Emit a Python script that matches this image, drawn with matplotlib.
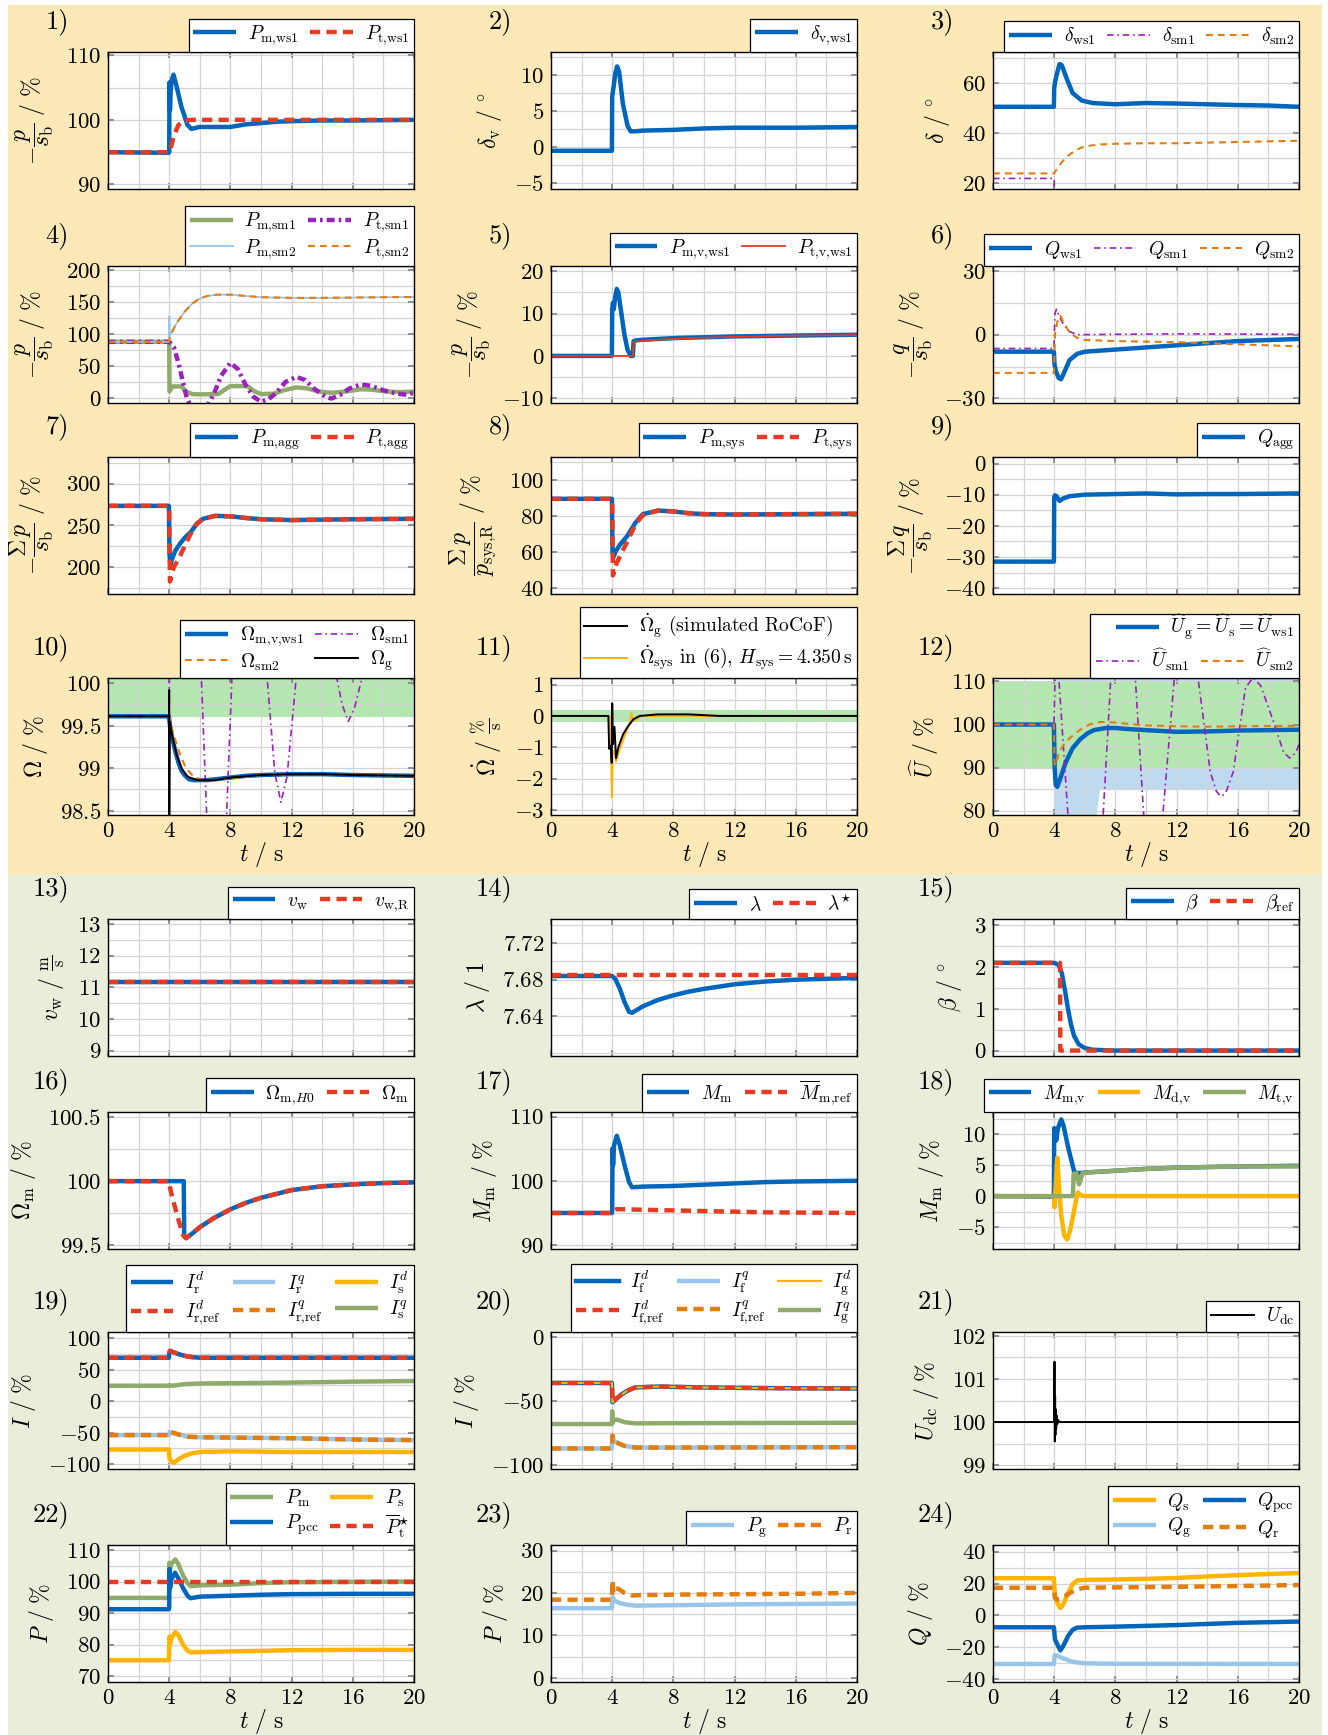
import matplotlib
matplotlib.use("Agg")
import matplotlib.pyplot as plt
import numpy as np
from matplotlib.patches import Rectangle, Polygon
from matplotlib.ticker import FuncFormatter

plt.rcParams['font.family'] = 'serif'
plt.rcParams['font.serif'] = ['cmr10']
plt.rcParams['mathtext.fontset'] = 'cm'
plt.rcParams['axes.unicode_minus'] = False

# ---------------- data (t in s, value) ----------------
p1_pm = [(0, 95.0), (3.95, 94.9), (4.0, 95.0), (4.02, 105.8), (4.05, 101.5), (4.1, 104.5), (4.15, 106), (4.28, 107),
         (4.45, 105.5), (4.8, 102), (5.2, 99.2), (5.45, 98.6), (6, 98.9), (8, 98.9), (9, 99.3), (10, 99.5),
         (11, 99.7), (12, 99.8), (14, 99.9), (16, 99.9), (20, 100.0)]
p1_pt = [(0, 95.0), (4.0, 95.0), (4.1, 95.6), (4.3, 97.5), (4.6, 99.2), (5.0, 99.9), (5.5, 100.0), (20, 100.0)]

p2_dv = [(0, -0.5), (3.98, -0.5), (4.0, 7.0), (4.05, 7.8), (4.1, 8.5), (4.2, 10.2), (4.32, 11.2), (4.45, 10.5),
         (4.7, 6.0), (5.0, 3.0), (5.2, 2.2), (5.5, 2.2), (6, 2.3), (8, 2.4), (10, 2.6), (12, 2.7), (16, 2.7), (20, 2.8)]

p3_ws1 = [(0, 50.5), (3.98, 50.5), (4.0, 58), (4.05, 60), (4.15, 63), (4.35, 67.5), (4.5, 67), (4.8, 62), (5.2, 56),
          (5.8, 53), (6.5, 52), (8, 51.5), (10, 52), (12, 51.8), (14, 51.5), (16, 51.2), (18, 51), (20, 50.5)]
p3_sm1 = [(0, 22.0), (4.0, 22.0), (4.02, 5.0), (20, -50.0)]
p3_sm2 = [(0, 24), (4.0, 24), (4.1, 25), (4.5, 28.5), (5, 31.5), (5.5, 33.5), (6, 34.8), (7, 35.5), (8, 35.8),
          (10, 36), (12, 36), (16, 36.5), (20, 37)]

p4_pm1 = [(0, 88), (4.0, 88), (4.02, 10), (4.1, 14), (4.25, 18), (4.8, 18), (5.1, 10), (5.5, 6), (6, 5.5), (7.2, 6),
          (7.7, 14), (8.0, 18.5), (9.1, 18.5), (9.6, 10), (10.0, 6), (10.8, 6.5), (11.5, 12), (12.3, 16.5),
          (13.0, 15), (13.8, 10), (14.6, 8), (15.5, 10), (16.5, 13.5), (17.2, 13), (18.2, 10), (19.2, 9), (20, 10)]
p4_pt1 = [(0, 88), (4.0, 88), (4.3, 80), (4.6, 55), (4.9, 25), (5.15, 0), (5.5, -18), (6.0, -25), (6.5, -12),
          (6.9, 5), (7.4, 35), (8.0, 55), (8.5, 45), (9.0, 20), (9.5, 2), (10.0, -6), (10.5, -2), (11.0, 8),
          (11.6, 25), (12.3, 33), (12.9, 28), (13.5, 14), (14.2, 2), (14.6, -1), (15.2, 5), (15.8, 15), (16.5, 21),
          (17.2, 19), (18.0, 12), (18.8, 7), (19.5, 5), (20, 8)]
p4_pm2 = [(0, 88), (3.99, 88), (4.01, 128), (4.04, 97), (4.1, 100), (4.5, 118), (5.0, 135), (5.5, 148), (6.0, 156),
          (6.5, 160), (7.1, 162), (8, 162), (9, 160), (10, 158), (12, 157), (14, 157), (16, 157.5), (20, 158.5)]
p4_pt2 = [(0, 88), (4.0, 88), (4.05, 96), (4.1, 100), (4.5, 118), (5.0, 135), (5.5, 148), (6.0, 156), (6.5, 160),
          (7.1, 162), (8, 162), (9, 160), (10, 158), (12, 157), (14, 157), (16, 157.5), (20, 158.5)]

p5_pm = [(0, 0), (3.98, 0), (4.0, 11), (4.05, 12.5), (4.1, 11), (4.2, 14), (4.3, 15.8), (4.4, 15), (4.6, 10),
         (4.8, 5), (5.0, 1.5), (5.2, 0), (5.35, 0), (5.4, 3.5), (5.6, 3.7), (6, 3.8), (8, 4.2), (10, 4.4),
         (12, 4.6), (16, 4.8), (20, 5.0)]
p5_pt = [(0, 0), (5.35, 0), (5.4, 3.3), (6, 3.6), (8, 4.0), (10, 4.3), (12, 4.5), (16, 4.8), (20, 4.9)]

p6_ws1 = [(0, -8), (3.98, -8), (4.02, -14), (4.1, -17), (4.3, -20.5), (4.45, -21), (4.7, -17), (5.0, -12),
          (5.5, -9), (6, -8), (8, -7), (10, -6), (12, -5), (14, -4), (16, -3), (18, -2.5), (20, -2)]
p6_sm1 = [(0, -6.5), (3.98, -6.5), (4.05, 10), (4.15, 12), (4.3, 9), (4.6, 5), (5.0, 1.5), (5.5, 0), (8, 0.2),
          (12, 0.4), (16, 0.3), (20, 0.2)]
p6_sm2 = [(0, -18), (3.98, -18), (4.05, 0), (4.2, 6), (4.4, 9), (4.6, 6), (5.0, 1), (5.5, -1.5), (6, -2.5),
          (8, -3), (12, -3.5), (16, -4.5), (20, -5.5)]

p7_pm = [(0, 273.5), (3.98, 273.5), (4.02, 215), (4.08, 202), (4.15, 208), (4.4, 220), (4.7, 228), (5.0, 235),
         (5.4, 242), (5.8, 252), (6.2, 258), (7, 261.5), (8, 261), (9, 259), (10, 257.5), (12, 256.5), (14, 257),
         (16, 257.5), (20, 258)]
p7_pt = [(0, 273.5), (4.0, 273.5), (4.05, 183), (4.3, 200), (4.7, 213), (5.0, 225), (5.4, 240), (5.8, 252),
         (6.2, 258), (7, 261.5), (8, 261), (9, 259), (10, 257.5), (12, 256.5), (14, 257), (16, 257.5), (20, 258)]

p8_pm = [(0, 89.5), (3.98, 89.5), (4.02, 60), (4.08, 57), (4.2, 60), (4.5, 64), (5.0, 69), (5.5, 76), (6.0, 81),
         (7, 83), (8, 82.5), (9, 81.5), (10, 81), (12, 80.8), (16, 81), (20, 81.2)]
p8_pt = [(0, 89.5), (4.0, 89.5), (4.05, 47), (4.3, 54), (4.7, 61), (5.0, 66), (5.5, 75), (6.0, 80.5), (7, 83),
         (8, 82.5), (9, 81.5), (10, 81), (12, 80.8), (16, 81), (20, 81.2)]

p9_q = [(0, -31.5), (3.98, -31.5), (4.0, -11), (4.05, -10.2), (4.15, -10.5), (4.35, -12), (4.6, -11.2),
        (5, -10.5), (6, -10), (8, -9.8), (10, -9.6), (12, -9.9), (14, -9.8), (16, -9.8), (20, -9.6)]

p10_ws1 = [(0, 99.61), (3.98, 99.61), (4.05, 99.5), (4.2, 99.35), (4.4, 99.2), (4.6, 99.07), (4.8, 98.97),
           (5.0, 98.92), (5.3, 98.87), (5.6, 98.86), (6.5, 98.86), (7, 98.87), (8, 98.89), (9, 98.91),
           (10, 98.92), (12, 98.93), (14, 98.93), (16, 98.92), (18, 98.915), (20, 98.91)]
p10_sm2 = [(0, 99.61), (4.0, 99.61), (4.2, 99.45), (4.5, 99.27), (4.8, 99.12), (5.1, 99.0), (5.5, 98.92),
           (6, 98.87), (7, 98.86), (8, 98.88), (10, 98.92), (12, 98.93), (14, 98.93), (16, 98.92), (20, 98.91)]
p10_g = [(0, 99.61), (3.99, 99.61), (4.0, 99.92), (4.005, 98.3), (4.03, 99.55), (4.2, 99.38), (4.5, 99.15),
         (4.8, 99.0), (5.2, 98.9), (5.8, 98.86), (7, 98.86), (8, 98.89), (10, 98.92), (12, 98.93), (14, 98.93),
         (16, 98.92), (20, 98.91)]
p10_sm1 = [(0, 99.61), (3.99, 99.61), (4.02, 100.3), (5.0, 101.0), (5.8, 100.5), (6.1, 100.06), (6.45, 98.45),
           (7.1, 98.0), (7.75, 98.45), (8.1, 100.06), (9.2, 100.9), (10.4, 100.06), (10.9, 98.95), (11.3, 98.6),
           (11.7, 98.9), (12.3, 100.06), (13.6, 100.7), (14.95, 100.06), (15.3, 99.75), (15.7, 99.55),
           (16.1, 99.7), (16.6, 100.06), (18.3, 100.6), (20, 99.98)]
band10 = (99.6, 101.0)

p11_g = [(0, 0), (3.75, 0), (3.8, -1.05), (3.9, -0.95), (3.97, -1.5), (4.0, 0.4), (4.05, -0.9), (4.15, -0.35),
         (4.25, -1.35), (4.4, -1.0), (4.7, -0.6), (5.0, -0.35), (5.4, -0.1), (5.8, 0.0), (7, 0.05), (9, 0.05),
         (11, 0.0), (20, 0.0)]
p11_sys = [(0, 0), (3.85, 0), (3.9, -0.2), (3.98, -2.6), (4.03, -1.2), (4.15, -1.1), (4.25, -1.45), (4.5, -1.05),
           (4.8, -0.65), (5.1, -0.3), (5.25, 0.08), (5.35, -0.15), (5.6, -0.12), (5.9, 0.0), (20, 0)]
band11 = (-0.2, 0.2)

p12_ws1 = [(0, 100), (3.98, 100), (4.03, 90), (4.1, 86), (4.2, 85.5), (4.4, 87.5), (4.75, 91.2), (5.2, 94.5),
           (5.7, 96.6), (6.2, 98), (6.6, 98.7), (7.4, 99.2), (8, 99.2), (9, 98.9), (10, 98.7), (12, 98.3),
           (14, 98.4), (16, 98.6), (18, 98.7), (20, 98.8)]
p12_sm2 = [(0, 100), (3.98, 100), (4.02, 91), (4.1, 90.5), (4.3, 93.5), (4.6, 95.2), (5.0, 96.8), (5.7, 98.8),
           (6.3, 100), (7.0, 100.6), (7.9, 100.5), (9, 100.1), (10, 99.8), (12, 99.6), (14, 99.5), (16, 99.6),
           (20, 99.7)]
p12_sm1 = [(0, 100), (3.99, 100), (4.05, 110.8), (4.15, 116), (4.3, 110.8), (4.9, 79), (5.9, 72), (7.2, 79),
           (7.7, 110.8), (8.5, 117), (9.3, 110.8), (9.85, 79), (10.5, 73), (11.1, 79), (11.85, 110.8), (12.6, 116),
           (13.4, 110.8), (14.2, 89), (14.6, 84.5), (14.9, 83.3), (15.2, 84), (15.7, 89), (16.5, 108.5),
           (17.0, 110.9), (17.5, 109), (18.3, 101), (19.0, 93.5), (19.4, 92.2), (19.8, 93.5), (20, 95.5)]
band12_ok = (90, 110)
band12_frt = [(4, 60), (6.08, 60), (7.0, 85), (20, 85), (20, 115), (4, 115)]

p13_vw = [(0, 11.16), (20, 11.16)]
p13_vwr = [(0, 11.16), (20, 11.16)]

p14_l = [(0, 7.684), (3.98, 7.684), (4.2, 7.681), (4.5, 7.670), (4.8, 7.656), (5.1, 7.645), (5.3, 7.644),
         (5.6, 7.647), (6, 7.651), (7, 7.658), (8, 7.663), (9, 7.667), (10, 7.670), (12, 7.675), (14, 7.678),
         (16, 7.680), (18, 7.681), (20, 7.682)]
p14_ls = [(0, 7.685), (20, 7.685)]

p15_b = [(0, 2.1), (4.0, 2.1), (4.3, 2.05), (4.5, 1.85), (4.7, 1.45), (4.9, 1.0), (5.1, 0.62), (5.3, 0.35),
         (5.6, 0.15), (6.0, 0.06), (6.5, 0.02), (8, 0.0), (20, 0.0)]
p15_br = [(0, 2.1), (4.38, 2.1), (4.4, 0.0), (20, 0.0)]

p16_h0 = [(0, 100), (4.95, 100), (4.98, 99.57), (5.1, 99.555), (5.5, 99.59), (6.0, 99.64), (6.9, 99.71),
          (8, 99.78), (9, 99.83), (10, 99.87), (12, 99.93), (14, 99.96), (16, 99.975), (18, 99.985), (20, 99.99)]
p16_m = [(0, 100), (3.95, 100), (4.15, 99.9), (4.5, 99.74), (4.9, 99.58), (5.1, 99.555), (5.5, 99.59),
         (6.0, 99.64), (6.9, 99.71), (8, 99.78), (9, 99.83), (10, 99.87), (12, 99.93), (14, 99.96), (16, 99.975),
         (18, 99.985), (20, 99.99)]

p17_m = [(0, 95), (3.98, 95), (4.0, 95.2), (4.02, 105), (4.06, 102.5), (4.12, 105.5), (4.3, 107), (4.5, 105.5),
         (4.8, 102.5), (5.1, 99.8), (5.3, 99.0), (6, 99.1), (8, 99.2), (10, 99.4), (12, 99.6), (14, 99.8),
         (16, 99.9), (20, 100)]
p17_r = [(0, 95), (4.0, 95), (4.1, 95.4), (4.3, 95.6), (6, 95.5), (8, 95.4), (10, 95.3), (14, 95.1), (20, 95.0)]

p18_m = [(0, 0), (3.95, -0.1), (3.98, 0), (4.0, 11), (4.06, 10.5), (4.13, 9.0), (4.25, 11), (4.46, 12.4),
         (4.6, 11.5), (4.9, 8), (5.1, 6), (5.3, 4), (5.5, 3.7), (6, 3.8), (8, 4.1), (10, 4.4), (12, 4.6),
         (14, 4.7), (16, 4.8), (20, 4.9)]
p18_d = [(0, 0), (3.98, 0), (4.02, -1.8), (4.08, 1), (4.2, 6.2), (4.3, 2), (4.45, -3), (4.65, -6.3), (4.85, -7.0),
         (5.05, -5.5), (5.25, -3), (5.4, -1), (5.55, 0.6), (5.75, 0.1), (6, 0), (20, 0)]
p18_t = [(0, 0), (5.22, 0), (5.27, 3.6), (5.45, 3.7), (5.62, 1.9), (5.72, 2.6), (5.85, 3.7), (6.5, 3.9), (8, 4.1),
         (10, 4.4), (12, 4.6), (14, 4.7), (16, 4.8), (20, 4.8)]

p19_rd = [(0, 69), (3.98, 69), (4.0, 75), (4.05, 80), (4.2, 78.5), (4.6, 75), (5.0, 72), (5.5, 70), (6, 69), (20, 69)]
p19_rq = [(0, -54), (3.98, -54), (4.03, -49), (4.2, -50), (4.6, -53), (5.2, -56.5), (6, -57.5), (8, -58),
          (12, -59), (16, -61), (20, -62)]
p19_sd = [(0, -77), (3.98, -77), (4.02, -92), (4.15, -96), (4.3, -98), (4.6, -93), (5.0, -87), (5.5, -83),
          (6, -81), (8, -80), (12, -81), (20, -81)]
p19_sq = [(0, 24.5), (3.98, 24.5), (4.02, 25.5), (4.2, 24.5), (5.0, 27), (6, 28), (8, 28.5), (12, 29.5),
          (16, 31), (20, 32)]

p20_fd = [(0, -36), (3.98, -36), (4.02, -51), (4.1, -50), (4.3, -48), (4.6, -45), (5.0, -42), (5.5, -39.5),
          (7, -38.8), (10, -39.5), (14, -40), (20, -40.3)]
p20_fq = [(0, -87), (3.98, -87), (4.02, -77), (4.1, -81), (4.4, -83), (4.8, -85), (5.5, -86.3), (8, -86.3),
          (20, -86)]
p20_gq = [(0, -68), (3.98, -68), (4.0, -58), (4.03, -67), (4.1, -65), (4.3, -64.5), (4.8, -66.5), (5.5, -67.5),
          (8, -67.3), (20, -67)]

p21_udc = [(0, 100), (3.99, 100), (4.0, 100.3), (4.02, 101.4), (4.04, 99.55), (4.06, 100.6), (4.08, 99.7),
           (4.1, 100.3), (4.13, 99.85), (4.16, 100.15), (4.2, 99.95), (4.25, 100.05), (4.35, 100), (20, 100)]

p22_pm = [(0, 94.8), (3.98, 94.8), (4.02, 106), (4.06, 104), (4.12, 105.5), (4.4, 107), (4.6, 105.5), (4.9, 102),
          (5.2, 99.5), (5.4, 98.5), (6, 98.8), (8, 99), (10, 99.5), (12, 99.8), (16, 99.9), (20, 100)]
p22_ppcc = [(0, 91.2), (3.98, 91.2), (4.0, 92), (4.02, 104), (4.06, 98), (4.12, 100.5), (4.38, 102.8),
            (4.6, 101), (4.9, 98), (5.2, 95.5), (5.4, 94.7), (6, 95.2), (8, 95.5), (10, 95.8), (12, 96),
            (16, 96.1), (20, 96.1)]
p22_ps = [(0, 75), (3.98, 75), (4.02, 82.5), (4.08, 80.5), (4.15, 82), (4.4, 84), (4.6, 83), (4.9, 80),
          (5.2, 78), (5.4, 77.5), (6, 77.6), (8, 77.8), (10, 78), (12, 78.2), (16, 78.3), (20, 78.3)]
p22_pt = [(0, 100), (20, 100)]

p23_pg = [(0, 16.4), (3.98, 16.4), (4.03, 19), (4.15, 18.2), (4.5, 17.6), (5, 17.2), (5.5, 17.0), (8, 17.1),
          (12, 17.3), (16, 17.4), (20, 17.5)]
p23_pr = [(0, 18.4), (3.98, 18.4), (4.02, 23), (4.08, 20), (4.2, 21), (4.4, 21), (4.8, 20), (5.3, 19.4),
          (6, 19.5), (8, 19.6), (12, 19.7), (16, 19.8), (20, 20)]

p24_qs = [(0, 23.4), (3.98, 23.4), (4.05, 12), (4.2, 8), (4.4, 4.7), (4.6, 7), (4.9, 14), (5.2, 19.5), (5.5, 22),
          (6, 22.3), (8, 22.6), (10, 23), (12, 23.5), (14, 24.5), (16, 25.3), (18, 26), (20, 26.6)]
p24_qr = [(0, 17.4), (3.98, 17.4), (4.05, 11), (4.2, 10), (4.4, 10.5), (4.7, 12), (5.0, 14), (5.5, 16.5),
          (6, 17.4), (10, 17.8), (14, 18.2), (18, 18.8), (20, 19.1)]
p24_qpcc = [(0, -7.4), (3.98, -7.4), (4.05, -15), (4.2, -18), (4.4, -21.9), (4.6, -19), (4.9, -13), (5.2, -9),
            (5.5, -7.6), (6, -7.4), (8, -7), (10, -6.5), (12, -6), (14, -5.3), (16, -4.6), (18, -4.2), (20, -3.8)]
p24_qg = [(0, -30.4), (3.98, -30.4), (4.03, -25), (4.2, -25.2), (4.6, -27), (5.2, -29), (6, -30), (8, -30.3),
          (20, -30.4)]

# ---------------- style ----------------
BLUE = '#0065bd'
LBLUE = '#98c6ea'
RED = '#e53b22'
ORANGE = '#e37d0e'
YELLOW = '#ffb400'
GREEN = '#8fab6c'
PURPLE = '#9b21bd'
BAND_G = '#b4e7b0'
BAND_B = '#bedaf0'

THICK = dict(lw=3.2, solid_capstyle='butt')
DASH_T = dict(lw=3.2, dashes=(2.3, 1.4))
DASH_O = dict(lw=1.5, dashes=(3.3, 2.4))
DDOT = dict(lw=1.2, dashes=(4, 2.2, 1, 2.2))
DDOT_T = dict(lw=3.2, dashes=(1.8, 0.9, 0.6, 0.9))

W, H = 1328, 1735
COL_X = [108, 551, 993]
ROW_TOP = [52, 266, 457, 678, 919, 1112, 1332, 1545]
AW, AH = 306, 137

fig = plt.figure(figsize=(W / 100, H / 100), dpi=100)
fig.patches.append(Rectangle((8 / W, 1 - 875 / H), 1314 / W, 870 / H, transform=fig.transFigure,
                             facecolor='#fde8b8', edgecolor='none', zorder=-10))
fig.patches.append(Rectangle((8 / W, 0), 1314 / W, 860 / H, transform=fig.transFigure,
                             facecolor='#e9edda', edgecolor='none', zorder=-10))


def line(ax, data, color, **kw):
    t, y = zip(*data)
    return ax.plot(t, y, color=color, **kw)[0]


def make_ax(i, ylim, yticks, ystep, ylabel):
    r, c = divmod(i, 3)
    x, top = COL_X[c], ROW_TOP[r]
    ax = fig.add_axes([x / W, 1 - (top + AH) / H, AW / W, AH / H])
    fig.text((x - 39) / W, 1 - (top - 30) / H, f'{i + 1})', ha='right', va='center', fontsize=19)
    ax.set_xlim(0, 20)
    ax.set_ylim(*ylim)
    ax.set_xticks([0, 4, 8, 12, 16, 20])
    ax.set_xticks([2, 6, 10, 14, 18], minor=True)
    ax.set_yticks(yticks)
    cand = np.arange(yticks[0] - 10 * ystep, yticks[-1] + 10 * ystep, ystep)
    minor = [v for v in cand if ylim[0] <= v <= ylim[1] and not np.any(np.isclose(v, yticks))]
    ax.set_yticks(minor, minor=True)
    ax.grid(True, which='both', color='#d4d4d4', lw=0.9)
    ax.set_axisbelow(True)
    ax.tick_params(which='major', direction='in', top=True, right=True, length=4, width=1.2,
                   color='#808080', labelsize=16.5, pad=5)
    ax.tick_params(which='minor', length=0)
    ax.yaxis.set_major_formatter(FuncFormatter(lambda v, p: f'${v:g}$'))
    if r in (3, 7):
        ax.xaxis.set_major_formatter(FuncFormatter(lambda v, p: f'${v:g}$'))
        ax.set_xlabel(r'$t\ /\ \mathrm{s}$', fontsize=17, labelpad=-1)
    else:
        ax.tick_params(labelbottom=False)
    ax.set_ylabel(ylabel, fontsize=17, labelpad=7)
    for s in ax.spines.values():
        s.set_linewidth(1.0)
    return ax


LEG = dict(loc='lower right', bbox_to_anchor=(1, 1), borderaxespad=0, fancybox=False, edgecolor='black',
           framealpha=1, fontsize=14, handlelength=2.2, handletextpad=0.6, columnspacing=0.6,
           borderpad=0.25, labelspacing=0.15)


def legend(ax, handles, labels, ncol=1):
    leg = ax.legend(handles, labels, ncol=ncol, **LEG)
    leg.get_frame().set_linewidth(0.9)
    return leg


PS = r'$-\dfrac{p}{s_\mathrm{b}}\ /\ \%$'

# 1
ax = make_ax(0, (89.3, 110.5), [90, 100, 110], 5, PS)
a = line(ax, p1_pm, BLUE, **THICK)
b = line(ax, p1_pt, RED, **DASH_T)
legend(ax, [a, b], [r'$P_\mathrm{m{,}ws1}$', r'$P_\mathrm{t{,}ws1}$'], 2)

# 2
ax = make_ax(1, (-5.8, 13.2), [-5, 0, 5, 10], 2.5, r'$\delta_\mathrm{v}\ /\ {}^{\circ}$')
a = line(ax, p2_dv, BLUE, **THICK)
legend(ax, [a], [r'$\delta_\mathrm{v{,}ws1}$'])

# 3
ax = make_ax(2, (17.8, 72.3), [20, 40, 60], 10, r'$\delta\ /\ {}^{\circ}$')
a = line(ax, p3_ws1, BLUE, **THICK)
b = line(ax, p3_sm1, PURPLE, **DDOT)
c = line(ax, p3_sm2, ORANGE, **DASH_O)
legend(ax, [a, b, c], [r'$\delta_\mathrm{ws1}$', r'$\delta_\mathrm{sm1}$', r'$\delta_\mathrm{sm2}$'], 3)

# 4
ax = make_ax(3, (-8, 207), [0, 50, 100, 150, 200], 25, PS)
a = line(ax, p4_pm1, GREEN, **THICK)
b = line(ax, p4_pt1, PURPLE, **DDOT_T)
c = line(ax, p4_pm2, LBLUE, lw=1.3)
d = line(ax, p4_pt2, ORANGE, **DASH_O)
legend(ax, [a, c, b, d], [r'$P_\mathrm{m{,}sm1}$', r'$P_\mathrm{m{,}sm2}$', r'$P_\mathrm{t{,}sm1}$',
                          r'$P_\mathrm{t{,}sm2}$'], 2)

# 5
ax = make_ax(4, (-11.1, 21.2), [-10, 0, 10, 20], 5, PS)
a = line(ax, p5_pm, BLUE, **THICK)
b = line(ax, p5_pt, RED, lw=1.3)
legend(ax, [a, b], [r'$P_\mathrm{m{,}v{,}ws1}$', r'$P_\mathrm{t{,}v{,}ws1}$'], 2)

# 6
ax = make_ax(5, (-32.2, 32.4), [-30, 0, 30], 15, r'$-\dfrac{q}{s_\mathrm{b}}\ /\ \%$')
a = line(ax, p6_ws1, BLUE, **THICK)
b = line(ax, p6_sm1, PURPLE, **DDOT)
c = line(ax, p6_sm2, ORANGE, **DASH_O)
legend(ax, [a, b, c], [r'$Q_\mathrm{ws1}$', r'$Q_\mathrm{sm1}$', r'$Q_\mathrm{sm2}$'], 3)

# 7
ax = make_ax(6, (168, 332), [200, 250, 300], 25, r'$-\dfrac{\Sigma\, p}{s_\mathrm{b}}\ /\ \%$')
a = line(ax, p7_pm, BLUE, **THICK)
b = line(ax, p7_pt, RED, **DASH_T)
legend(ax, [a, b], [r'$P_\mathrm{m{,}agg}$', r'$P_\mathrm{t{,}agg}$'], 2)

# 8
ax = make_ax(7, (36.7, 112.7), [40, 60, 80, 100], 10, r'$\dfrac{\Sigma\, p}{p_\mathrm{sys{,}R}}\ /\ \%$')
a = line(ax, p8_pm, BLUE, **THICK)
b = line(ax, p8_pt, RED, **DASH_T)
legend(ax, [a, b], [r'$P_\mathrm{m{,}sys}$', r'$P_\mathrm{t{,}sys}$'], 2)

# 9
ax = make_ax(8, (-41.9, 2.1), [-40, -30, -20, -10, 0], 5, r'$-\dfrac{\Sigma\, q}{s_\mathrm{b}}\ /\ \%$')
a = line(ax, p9_q, BLUE, **THICK)
legend(ax, [a], [r'$Q_\mathrm{agg}$'])

# 10
ax = make_ax(9, (98.45, 100.06), [98.5, 99, 99.5, 100], 0.25, r'$\Omega\ /\ \%$')
ax.axhspan(*band10, color=BAND_G, lw=0, zorder=0.2)
a = line(ax, p10_ws1, BLUE, **THICK)
b = line(ax, p10_sm1, PURPLE, **DDOT)
c = line(ax, p10_sm2, ORANGE, **DASH_O)
d = line(ax, p10_g, 'black', lw=1.4)
legend(ax, [a, c, b, d], [r'$\Omega_\mathrm{m{,}v{,}ws1}$', r'$\Omega_\mathrm{sm2}$', r'$\Omega_\mathrm{sm1}$',
                          r'$\Omega_\mathrm{g}$'], 2)

# 11
ax = make_ax(10, (-3.16, 1.21), [-3, -2, -1, 0, 1], 0.5, r'$\dot{\Omega}\ /\ \frac{\%}{\mathrm{s}}$')
ax.axhspan(*band11, color=BAND_G, lw=0, zorder=0.2)
b = line(ax, p11_sys, YELLOW, lw=1.4)
a = line(ax, p11_g, 'black', lw=1.4)
legend(ax, [a, b], [r'$\dot{\Omega}_\mathrm{g}$ (simulated RoCoF)',
                    r'$\dot{\Omega}_\mathrm{sys}$ in (6), $H_\mathrm{sys}=4.350\,\mathrm{s}$'])

# 12
ax = make_ax(11, (79.0, 110.8), [80, 90, 100, 110], 5, r'$\widehat{U}\ /\ \%$')
ax.add_patch(Polygon(band12_frt, closed=True, facecolor=BAND_B, edgecolor='none', zorder=0.15))
ax.axhspan(*band12_ok, color=BAND_G, lw=0, zorder=0.2)
a = line(ax, p12_ws1, BLUE, **THICK)
b = line(ax, p12_sm1, PURPLE, **DDOT)
c = line(ax, p12_sm2, ORANGE, **DASH_O)
opts = {k: v for k, v in LEG.items() if k not in ('edgecolor', 'framealpha')}
la = ax.legend([a], [r'$\widehat{U}_\mathrm{g} = \widehat{U}_\mathrm{s} = \widehat{U}_\mathrm{ws1}$'],
               frameon=False, **dict(opts, bbox_to_anchor=(1, 1 + 31 / AH)))
ax.add_artist(la)
ax.legend([b, c], [r'$\widehat{U}_\mathrm{sm1}$', r'$\widehat{U}_\mathrm{sm2}$'], ncol=2, frameon=False, **opts)
ax.add_patch(Rectangle(((1090 - 993) / AW, 1), 1 - (1090 - 993) / AW, 64 / AH, transform=ax.transAxes,
                       clip_on=False, facecolor='white', edgecolor='black', lw=0.9, zorder=4))

# 13
ax = make_ax(12, (8.83, 13.16), [9, 10, 11, 12, 13], 0.5, r'$v_\mathrm{w}\ /\ \frac{\mathrm{m}}{\mathrm{s}}$')
a = line(ax, p13_vw, BLUE, **THICK)
b = line(ax, p13_vwr, RED, **DASH_T)
legend(ax, [a, b], [r'$v_\mathrm{w}$', r'$v_\mathrm{w{,}R}$'], 2)

# 14
ax = make_ax(13, (7.597, 7.746), [7.64, 7.68, 7.72], 0.02, r'$\lambda\ /\ 1$')
a = line(ax, p14_l, BLUE, **THICK)
b = line(ax, p14_ls, RED, **DASH_T)
legend(ax, [a, b], [r'$\lambda$', r'$\lambda^{\star}$'], 2)

# 15
ax = make_ax(14, (-0.13, 3.15), [0, 1, 2, 3], 0.5, r'$\beta\ /\ {}^{\circ}$')
a = line(ax, p15_b, BLUE, **THICK)
b = line(ax, p15_br, RED, **DASH_T)
legend(ax, [a, b], [r'$\beta$', r'$\beta_\mathrm{ref}$'], 2)

# 16
ax = make_ax(15, (99.47, 100.54), [99.5, 100, 100.5], 0.25, r'$\Omega_\mathrm{m}\ /\ \%$')
a = line(ax, p16_h0, BLUE, **THICK)
b = line(ax, p16_m, RED, **DASH_T)
legend(ax, [a, b], [r'$\Omega_{\mathrm{m}{,}H0}$', r'$\Omega_\mathrm{m}$'], 2)

# 17
ax = make_ax(16, (89.4, 110.7), [90, 100, 110], 5, r'$M_\mathrm{m}\ /\ \%$')
a = line(ax, p17_m, BLUE, **THICK)
b = line(ax, p17_r, RED, **DASH_T)
legend(ax, [a, b], [r'$M_\mathrm{m}$', r'$\overline{M}_\mathrm{m{,}ref}$'], 2)

# 18
ax = make_ax(17, (-8.55, 13.6), [-5, 0, 5, 10], 2.5, r'$M_\mathrm{m}\ /\ \%$')
a = line(ax, p18_m, BLUE, **THICK)
b = line(ax, p18_d, YELLOW, **THICK)
c = line(ax, p18_t, GREEN, **THICK)
legend(ax, [a, b, c], [r'$M_\mathrm{m{,}v}$', r'$M_\mathrm{d{,}v}$', r'$M_\mathrm{t{,}v}$'], 3)

# 19
ax = make_ax(18, (-108, 110), [-100, -50, 0, 50, 100], 25, r'$I\ /\ \%$')
a = line(ax, p19_rd, BLUE, **THICK)
c = line(ax, p19_rq, LBLUE, **THICK)
e = line(ax, p19_sd, YELLOW, **THICK)
f = line(ax, p19_sq, GREEN, **THICK)
b = line(ax, p19_rd, RED, **DASH_T)
d = line(ax, p19_rq, ORANGE, **DASH_T)
legend(ax, [a, b, c, d, e, f], [r'$I_\mathrm{r}^{d}$', r'$I_\mathrm{r{,}ref}^{d}$', r'$I_\mathrm{r}^{q}$',
                                r'$I_\mathrm{r{,}ref}^{q}$', r'$I_\mathrm{s}^{d}$', r'$I_\mathrm{s}^{q}$'], 3)

# 20
ax = make_ax(19, (-103, 3.7), [-100, -50, 0], 25, r'$I\ /\ \%$')
a = line(ax, p20_fd, BLUE, lw=3.2)
c = line(ax, p20_fq, LBLUE, **THICK)
f = line(ax, p20_gq, GREEN, **THICK)
e = line(ax, p20_fd, YELLOW, lw=1.6)
b = line(ax, p20_fd, RED, **DASH_T)
d = line(ax, p20_fq, ORANGE, **DASH_T)
legend(ax, [a, b, c, d, e, f], [r'$I_\mathrm{f}^{d}$', r'$I_\mathrm{f{,}ref}^{d}$', r'$I_\mathrm{f}^{q}$',
                                r'$I_\mathrm{f{,}ref}^{q}$', r'$I_\mathrm{g}^{d}$', r'$I_\mathrm{g}^{q}$'], 3)

# 21
ax = make_ax(20, (98.91, 102.09), [99, 100, 101, 102], 0.5, r'$U_\mathrm{dc}\ /\ \%$')
a = line(ax, p21_udc, 'black', lw=1.4)
legend(ax, [a], [r'$U_\mathrm{dc}$'])

# 22
ax = make_ax(21, (68.1, 111.6), [70, 80, 90, 100, 110], 5, r'$P\ /\ \%$')
a = line(ax, p22_pm, GREEN, **THICK)
c = line(ax, p22_ps, YELLOW, **THICK)
b = line(ax, p22_ppcc, BLUE, **THICK)
d = line(ax, p22_pt, RED, **DASH_T)
legend(ax, [a, b, c, d], [r'$P_\mathrm{m}$', r'$P_\mathrm{pcc}$', r'$P_\mathrm{s}$',
                          r'$\overline{P}_\mathrm{t}^{\star}$'], 2)

# 23
ax = make_ax(22, (-1.0, 31.3), [0, 10, 20, 30], 5, r'$P\ /\ \%$')
a = line(ax, p23_pg, LBLUE, **THICK)
b = line(ax, p23_pr, ORANGE, **DASH_T)
legend(ax, [a, b], [r'$P_\mathrm{g}$', r'$P_\mathrm{r}$'], 2)

# 24
ax = make_ax(23, (-41.7, 44.2), [-40, -20, 0, 20, 40], 10, r'$Q\ /\ \%$')
a = line(ax, p24_qs, YELLOW, **THICK)
c = line(ax, p24_qpcc, BLUE, **THICK)
b = line(ax, p24_qg, LBLUE, **THICK)
d = line(ax, p24_qr, ORANGE, **DASH_T)
legend(ax, [a, b, c, d], [r'$Q_\mathrm{s}$', r'$Q_\mathrm{g}$', r'$Q_\mathrm{pcc}$', r'$Q_\mathrm{r}$'], 2)

fig.savefig('out.png', dpi=100)
